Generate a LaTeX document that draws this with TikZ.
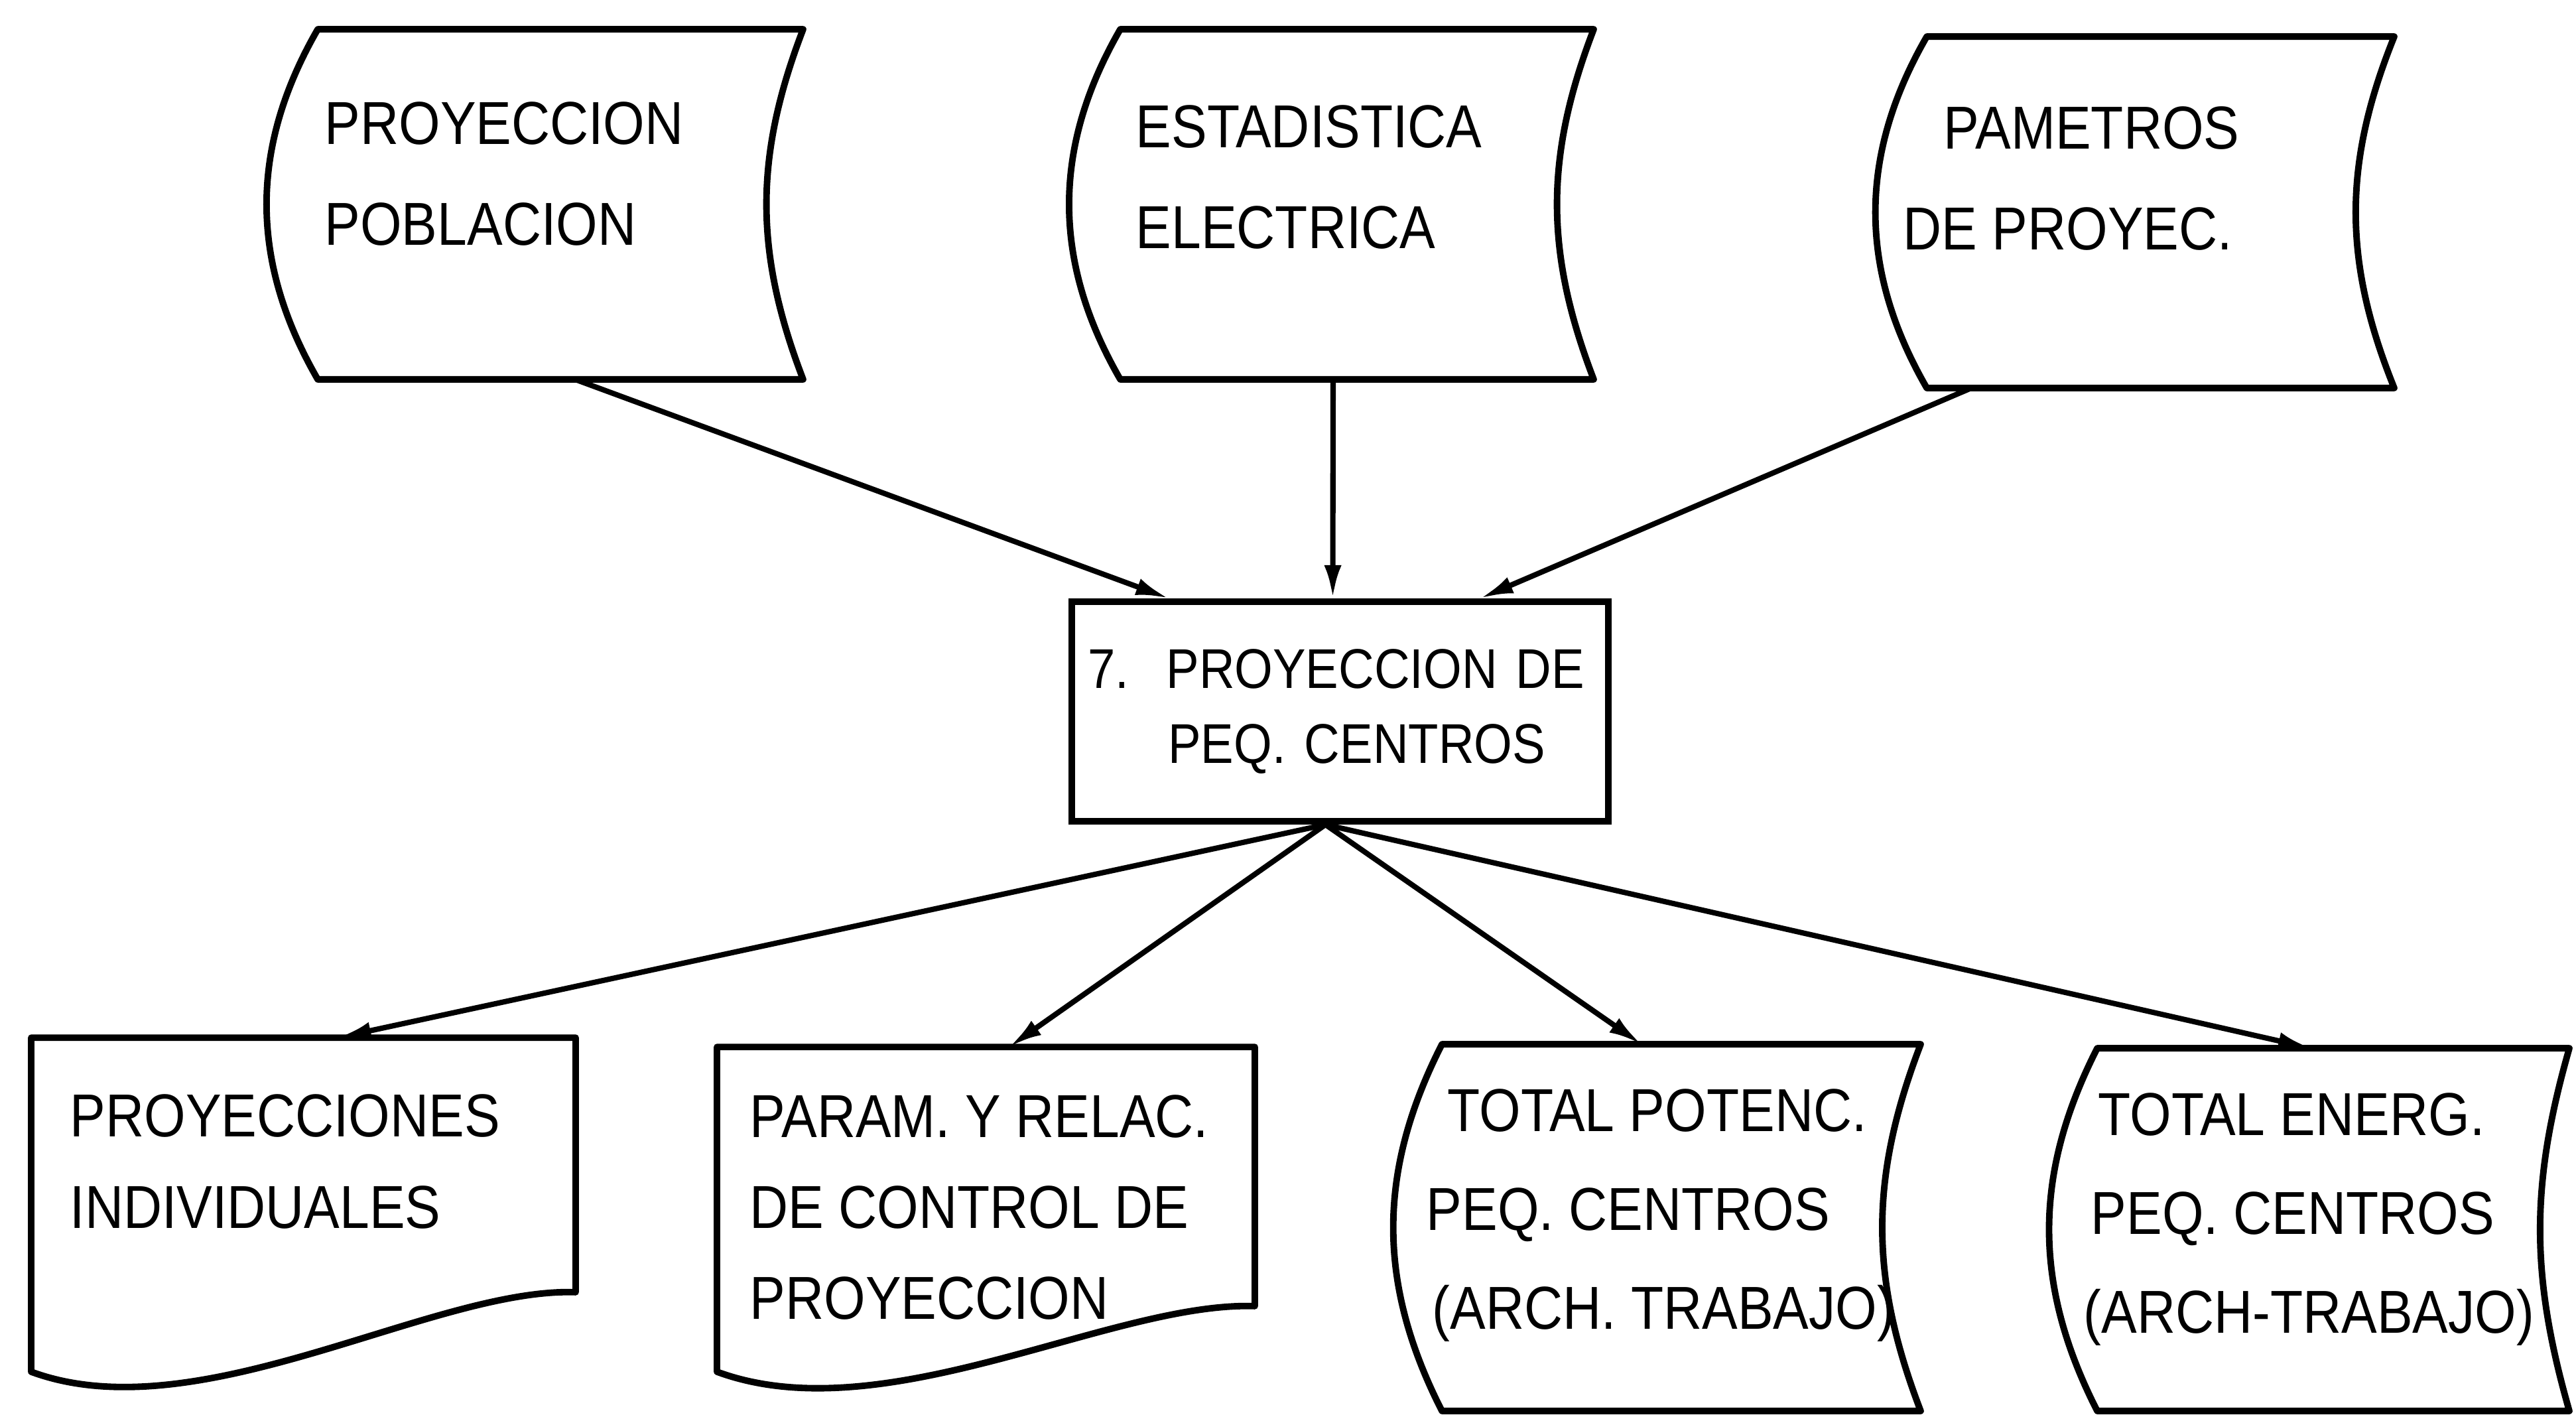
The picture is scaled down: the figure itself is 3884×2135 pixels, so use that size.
\documentclass[tikz,border=0pt]{standalone}
\usepackage{fontspec}
\setmainfont{Liberation Sans}[FakeStretch=0.88]
\usetikzlibrary{arrows.meta,calc}

\begin{document}
\begin{tikzpicture}[x=0.01cm,y=-0.01cm,>={Latex[length=0.5cm,width=0.26cm]},
    every node/.style={inner sep=0pt}]
  \tikzstyle{area}=[rectangle,draw=none]
  \tikzstyle{outline}=[line width=2.8pt,line join=round]
  \tikzstyle{flow}=[line width=2.3pt]
  \tikzstyle{txt}=[align=left,anchor=west,font=\fontsize{26}{43.5}\selectfont]
  \tikzstyle{proc}=[rectangle,draw,line width=2.8pt,minimum width=8.09cm,minimum height=3.31cm,
    text width=7.6cm,align=left,font=\fontsize{24}{32.4}\selectfont]

  \useasboundingbox (0,0) rectangle (3884,2135);

  % Files
  \node[area, minimum width=7.3cm, minimum height=5.26cm] (pob) at (845,308) {};
  \node[area, minimum width=7.12cm, minimum height=5.26cm] (est) at (2046,308) {};
  \node[area, minimum width=7.03cm, minimum height=5.28cm] (par) at (3257.5,320) {};
  \node[area, minimum width=8.19cm, minimum height=3.82cm] (indiv) at (457.5,1756) {};
  \node[area, minimum width=8.09cm, minimum height=3.89cm] (ctrl) at (1486.5,1773.5) {};
  \node[area, minimum width=7.2cm, minimum height=5.51cm] (pot) at (2535,1850.5) {};
  \node[area, minimum width=7.1cm, minimum height=5.45cm] (ener) at (3518,1853.5) {};

  \draw[outline] (pob.north west) -- (pob.north east) to[bend right=21] (pob.south east)
    -- (pob.south west) to[bend left=30] (pob.north west) -- cycle;
  \draw[outline] (est.north west) -- (est.north east) to[bend right=21] (est.south east)
    -- (est.south west) to[bend left=30] (est.north west) -- cycle;
  \draw[outline] (par.north west) -- (par.north east) to[bend right=22] (par.south east)
    -- (par.south west) to[bend left=30] (par.north west) -- cycle;
  \draw[outline] (pot.north west) -- (pot.north east) to[bend right=21] (pot.south east)
    -- (pot.south west) to[bend left=27] (pot.north west) -- cycle;
  \draw[outline] (ener.north west) -- (ener.north east) to[bend right=16] (ener.south east)
    -- (ener.south west) to[bend left=27] (ener.north west) -- cycle;
  \draw[outline] (indiv.north west) -- (indiv.north east) -- (indiv.south east)
    .. controls ($(indiv.south east)+(-217,-7)$) and ($(indiv.south west)+(252,213)$)
    .. ($(indiv.south west)+(0,120)$) -- cycle;
  \draw[outline] (ctrl.north west) -- (ctrl.north east) -- (ctrl.south east)
    .. controls ($(ctrl.south east)+(-217,-7)$) and ($(ctrl.south west)+(252,192)$)
    .. ($(ctrl.south west)+(0,99)$) -- cycle;

  \node[txt] (pobtxt) at (489,262) {PROYECCION\\POBLACION};
  \node[txt] (esttxt) at (1712,267) {ESTADISTICA\\ELECTRICA};
  \node[txt] (partxt) at (2869,269) {\hspace*{0.61cm}PAMETROS\\DE PROYEC.};
  \node[txt, font=\fontsize{26}{39}\selectfont] (indivtxt) at (105,1751) {PROYECCIONES\\INDIVIDUALES};
  \node[txt, font=\fontsize{26}{39}\selectfont] (ctrltxt) at (1130,1820) {PARAM. Y RELAC.\\DE CONTROL DE\\PROYECCION};
  \node[txt, font=\fontsize{26}{42.5}\selectfont] (pottxt) at (2150,1832)
    {\hspace*{0.32cm}TOTAL POTENC.\\PEQ. CENTROS\\\hspace*{0.09cm}(ARCH. TRABAJO)};
  \node[txt, font=\fontsize{26}{42.5}\selectfont] (enertxt) at (3141,1838)
    {\hspace*{0.22cm}TOTAL ENERG.\\\hspace*{0.11cm}PEQ. CENTROS\\(ARCH-TRABAJO)};

  % Process
  \node[proc] (proy) at (2020.5,1072.5) {7.\ \ PROYECCION DE\\\hspace*{1.21cm}PEQ. CENTROS};

  % Flows
  \path[->,flow] ([xshift=0.22cm]pob.south) edge ([xshift=-2.58cm]proy.north);
  \path[->,flow] ([xshift=-0.36cm]est.south) edge ([xshift=-0.11cm]proy.north);
  \path[->,flow] ([xshift=-2.85cm]par.south) edge ([xshift=2.11cm]proy.north);
  \path[->,flow] ([xshift=-0.22cm]proy.south) edge ([xshift=0.52cm]indiv.north)
                 ([xshift=-0.22cm]proy.south) edge ([xshift=0.35cm]ctrl.north)
                 ([xshift=-0.22cm]proy.south) edge ([xshift=-0.6cm]pot.north)
                 ([xshift=-0.22cm]proy.south) edge ([xshift=-0.33cm]ener.north);

\end{tikzpicture}
\end{document}
